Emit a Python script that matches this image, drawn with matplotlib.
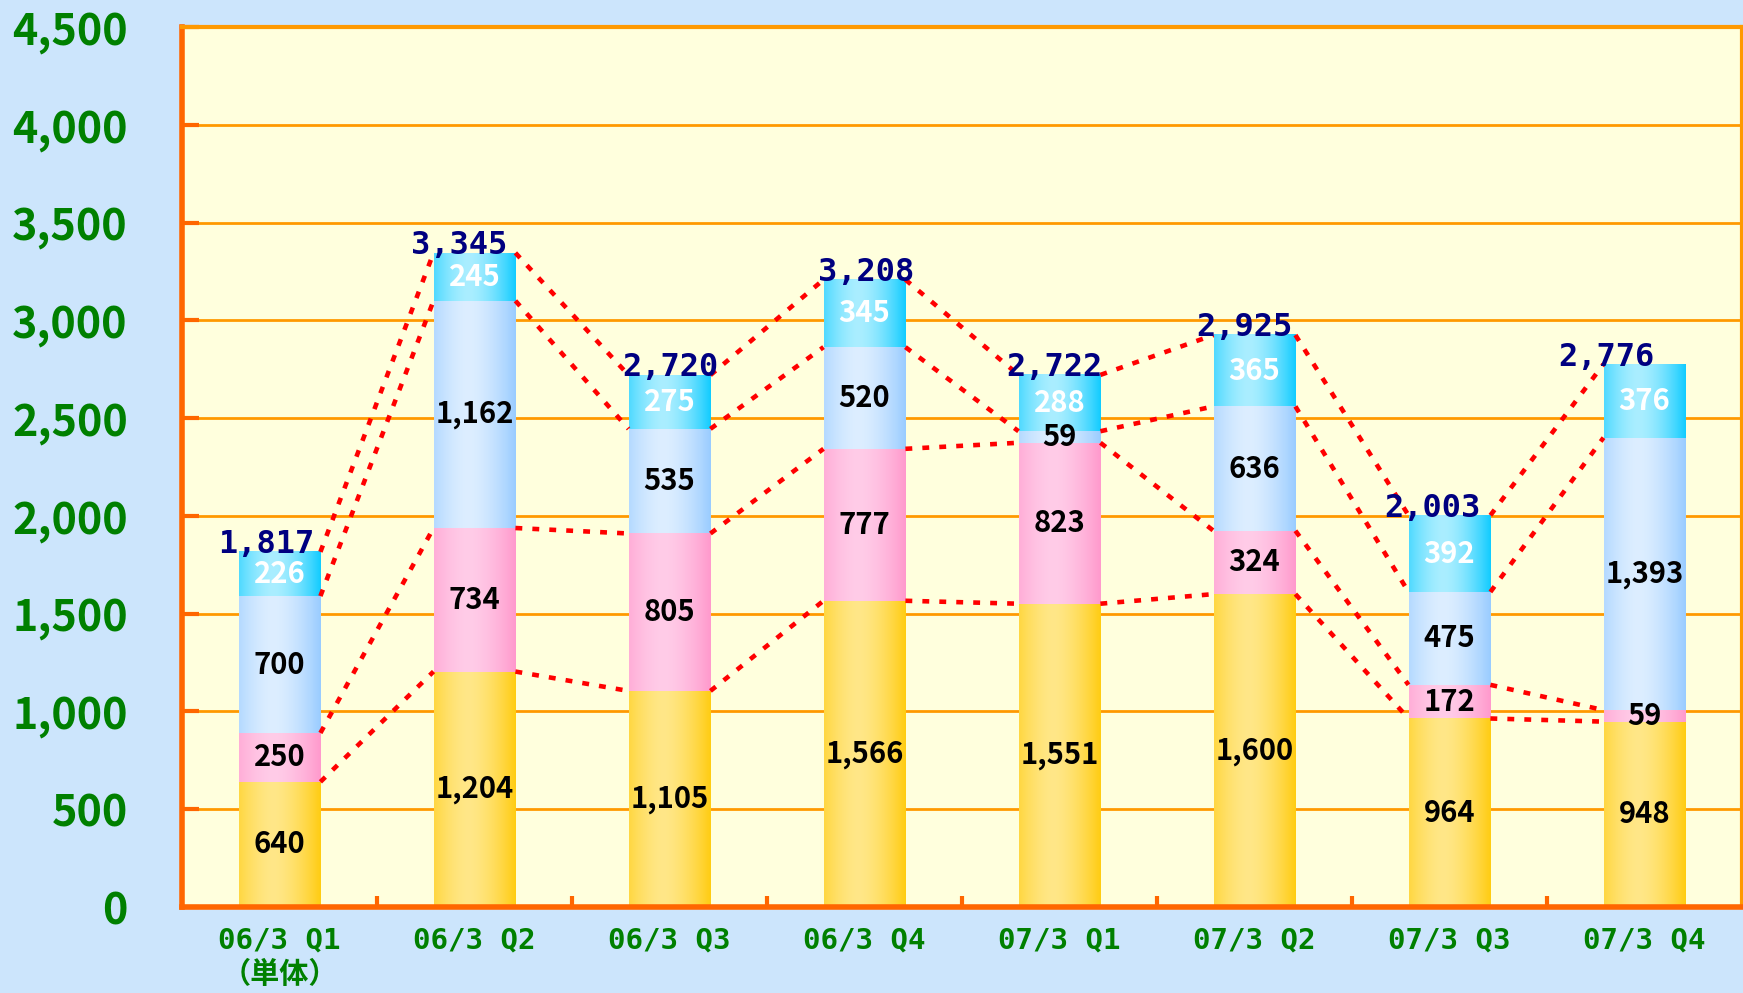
import matplotlib
matplotlib.use('Agg')
import matplotlib.pyplot as plt
import matplotlib.colors as mcolors
import numpy as np

plt.rcParams['font.family'] = ['Noto Sans CJK JP', 'DejaVu Sans']
mono = ['DejaVu Sans Mono', 'Noto Sans CJK JP']

quarters = ['06/3 Q1\n（単体）', '06/3 Q2', '06/3 Q3', '06/3 Q4',
            '07/3 Q1', '07/3 Q2', '07/3 Q3', '07/3 Q4']
seg1 = [640, 1204, 1105, 1566, 1551, 1600, 964, 948]
seg2 = [250, 734, 805, 777, 823, 324, 172, 59]
seg3 = [700, 1162, 535, 520, 59, 636, 475, 1393]
seg4 = [226, 245, 275, 345, 288, 365, 392, 376]
totals = [1817, 3345, 2720, 3208, 2722, 2925, 2003, 2776]

# edge colour, middle colour, label colour
styles = [('#FFCC11', '#FFE788', 'black'),
          ('#FF99CC', '#FFCCE8', 'black'),
          ('#99CCFF', '#DDEEFF', 'black'),
          ('#11CCFF', '#AAEEFF', 'white')]
total_dx = [-13, -15, 1, 2, -5, -10, -17, -38]  # px shift of total labels

fig = plt.figure(figsize=(17.43, 9.93), dpi=100, facecolor='#CCE5FC')
ax = fig.add_axes([0.1044, 0.0866, 0.8950, 0.8862])
ax.set_facecolor('#FFFFDD')

x = np.arange(len(quarters))
w = 0.42
segs = [seg1, seg2, seg3, seg4]


def grad(c_edge, c_mid):
    t = np.linspace(0, 1, 200)
    s = 1 - np.clip(np.abs(t - 0.42) / 0.58, 0, 1) ** 1.6
    a = np.array(mcolors.to_rgb(c_edge))
    b = np.array(mcolors.to_rgb(c_mid))
    return (a[None, :] + (b - a)[None, :] * s[:, None])[None, :, :]


bottom = np.zeros(len(x))
levels = []
for vals, (ce, cm, tc) in zip(segs, styles):
    bars = ax.bar(x, vals, w, bottom=bottom, color=ce, linewidth=0, zorder=2)
    img = grad(ce, cm)
    for b, v in zip(bars, vals):
        x0, y0 = b.get_x(), b.get_y()
        ax.imshow(img, extent=[x0, x0 + b.get_width(), y0, y0 + b.get_height()],
                  aspect='auto', zorder=2.5, interpolation='bilinear')
        ax.text(b.get_x() + b.get_width() / 2, y0 + v / 2, f'{v:,}',
                ha='center', va='center', fontsize=21, fontweight='bold',
                color=tc, zorder=5)
    bottom = bottom + np.array(vals)
    levels.append(bottom.copy())

# dotted connectors between stacked levels
for lev in levels:
    for i in range(len(x) - 1):
        ax.plot([x[i] + w / 2, x[i + 1] - w / 2], [lev[i], lev[i + 1]],
                color='#FF0000', lw=3.3, ls=(0, (1.5, 2.2)), zorder=4,
                solid_capstyle='butt', dash_capstyle='butt')

for i, t in enumerate(totals):
    ax.annotate(f'{t:,}', (x[i], levels[-1][i]),
                xytext=(total_dx[i] * 0.72, -1), textcoords='offset points',
                ha='center', va='baseline', fontsize=23, fontweight='bold',
                family=mono, color='#000080', zorder=6)

ax.set_xlim(-0.5, len(x) - 0.5)
ax.set_ylim(0, 4500)
ax.set_yticks(np.arange(0, 4501, 500))
ax.set_yticklabels([f'{v:,}' for v in range(0, 4501, 500)])
ax.yaxis.grid(True, color='#FF9900', lw=2)
ax.set_axisbelow(True)

ax.set_xticks(x)
ax.set_xticklabels(quarters)
ax.set_xticks(np.arange(0.5, len(x) - 1, 1), minor=True)
ax.tick_params(axis='x', which='major', length=0, pad=14, labelsize=21,
               labelcolor='#008000')
ax.tick_params(axis='x', which='minor', direction='in', length=8, width=3,
               color='#FF6600')
ax.tick_params(axis='y', direction='in', length=12, width=3, color='#FF6600',
               pad=39, labelsize=31, labelcolor='#008000')
for lab in ax.get_xticklabels() + ax.get_yticklabels():
    lab.set_fontweight('bold')
for lab in ax.get_xticklabels():
    lab.set_family(mono)
    lab.set_linespacing(1.3)

for side in ['left', 'bottom']:
    ax.spines[side].set_color('#FF6600')
    ax.spines[side].set_linewidth(4)
for side in ['top', 'right']:
    ax.spines[side].set_color('#FF9900')
    ax.spines[side].set_linewidth(3)

fig.savefig('out.png', dpi=100, facecolor=fig.get_facecolor())
